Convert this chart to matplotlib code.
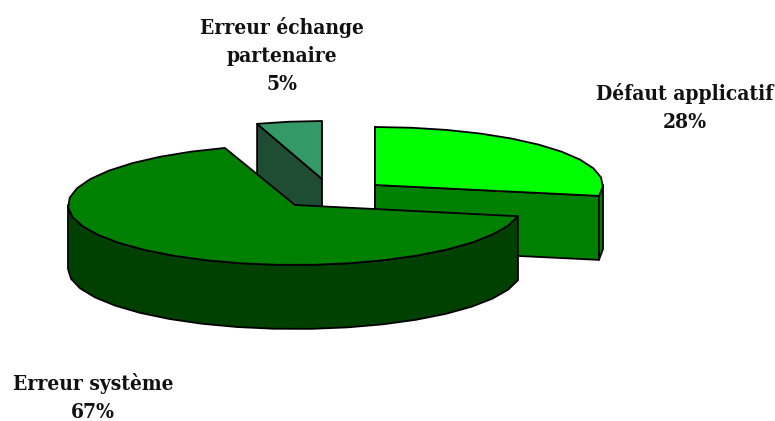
import numpy as np
import matplotlib
matplotlib.use("Agg")
import matplotlib.pyplot as plt
from matplotlib.patches import Polygon

categories = ["Défaut applicatif", "Erreur système", "Erreur échange\npartenaire"]
values = [28, 67, 5]
pct_labels = ["28%", "67%", "5%"]

TOP_COLORS = ["#00FF00", "#008000", "#339966"]
SIDE_COLORS = ["#008000", "#004000", "#1F4D33"]
CENTERS = [(375, 185), (295, 205), (322, 179)]
RX = [228, 227, 210]
RY = [58, 60, 58]
DEPTH = 64
LABEL_POS = [(685, 107), (93, 397), (282, 55)]

fig = plt.figure(figsize=(7.75, 4.21), dpi=100)
ax = fig.add_axes([0, 0, 1, 1])
ax.set_xlim(0, 775)
ax.set_ylim(421, 0)
ax.axis("off")

fracs = np.array(values) / np.sum(values)
edges = np.concatenate([[0], np.cumsum(fracs)]) * 2 * np.pi


def arc(i, a0, a1, step=np.radians(9)):
    n = max(2, int(abs(a1 - a0) / step) + 1)
    t = np.linspace(a0, a1, n)
    cx, cy = CENTERS[i]
    return np.column_stack([cx + RX[i] * np.sin(t), cy - RY[i] * np.cos(t)])


def poly(pts, fc, z):
    ax.add_patch(Polygon(pts, closed=True, fc=fc, ec="black", lw=1.3,
                         joinstyle="round", zorder=z))


def wedge(i, z):
    a0, a1 = edges[i], edges[i + 1]
    cx, cy = CENTERS[i]
    down = np.array([0, DEPTH])
    apex = np.array([[cx, cy]])
    if i == 0:
        end = arc(i, a1, a1)[0]
        poly(np.vstack([apex, [end], [end + down], apex + down]), SIDE_COLORS[i], z)
        rim = arc(i, np.pi / 2, a1)
        poly(np.vstack([rim, (rim + down)[::-1]]), SIDE_COLORS[i], z)
        left = np.array([cx, cy - RY[i]])
        poly(np.vstack([[left], [left + down], apex + down, apex]), SIDE_COLORS[i], z)
    elif i == 1:
        rim = arc(i, a0, 3 * np.pi / 2)
        poly(np.vstack([rim, (rim + down)[::-1]]), SIDE_COLORS[i], z)
    else:
        start = arc(i, a0, a0)[0]
        poly(np.vstack([start, apex, apex + down, start + down]), SIDE_COLORS[i], z)
    poly(np.vstack([apex, arc(i, a0, a1)]), TOP_COLORS[i], z + 0.5)


wedge(2, 1)
wedge(0, 2)
wedge(1, 3)

for cat, pct, (x, y) in zip(categories, pct_labels, LABEL_POS):
    ax.text(x, y, f"{cat}\n{pct}", ha="center", va="center", fontsize=15,
            fontweight="bold", family="DejaVu Serif", stretch="condensed",
            linespacing=1.5, color="#111111")

fig.savefig("out.png", dpi=100)
